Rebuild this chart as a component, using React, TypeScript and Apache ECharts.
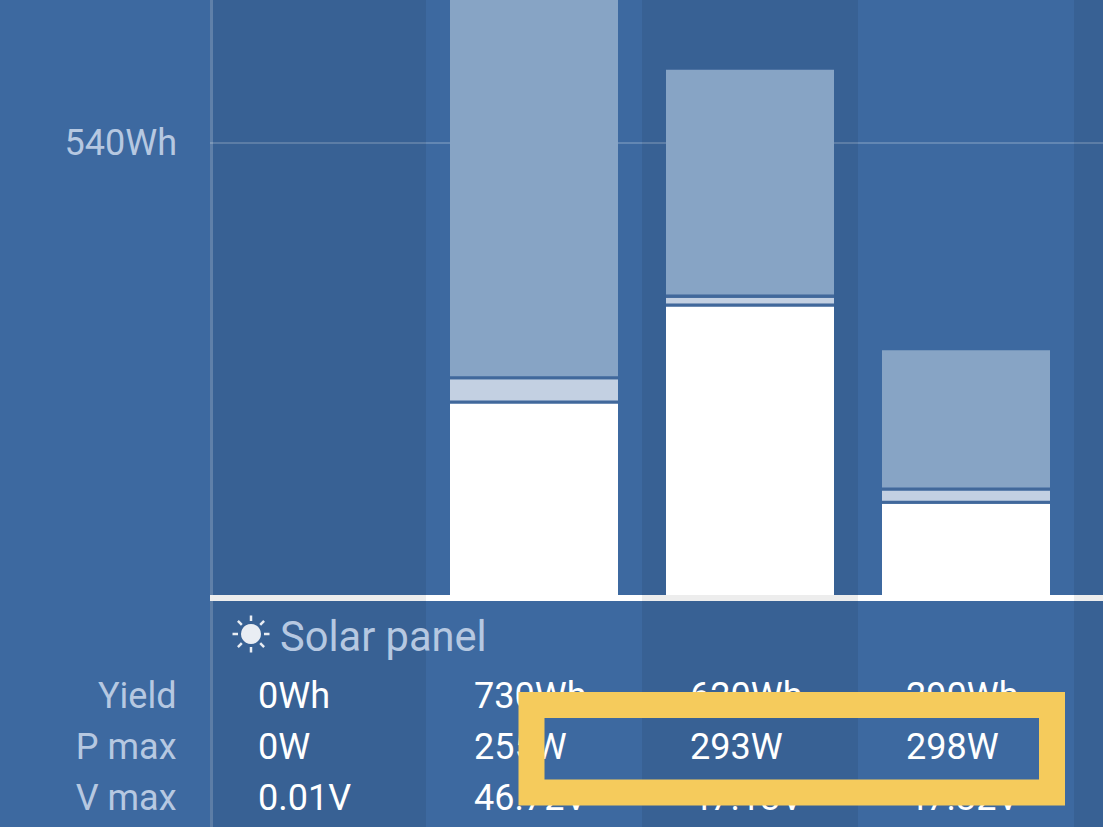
import React, { useEffect, useRef } from "react";
import * as echarts from "echarts";

const days = ["d0", "d1", "d2", "d3", "d4"];
const barWhite = [0, 231, 346, 112];
const barMid = [0, 25, 7, 12];
const barTop = [0, 465, 267, 163];
const barGap = [0, 3.6, 3.6, 3.6];
const yieldRow = ["0Wh", "730Wh", "620Wh", "290Wh"];
const pmaxRow = ["0W", "255W", "293W", "298W"];
const vmaxRow = ["0.01V", "46.72V", "47.13V", "47.32V"];
const rowNames = ["V max", "P max", "Yield"];
const rowTexts = [vmaxRow, pmaxRow, yieldRow];
const FONT = "Roboto";

export default function App() {
  const ref = useRef<HTMLDivElement>(null);
  useEffect(() => {
    const chart = echarts.init(ref.current!, null, { renderer: "svg" });
    const bands = ["rgba(0,0,0,0.07)", "rgba(0,0,0,0)"];
    const bar = (name: string, data: number[], color: string) => ({
      name,
      type: "bar",
      stack: "day",
      xAxisIndex: 0,
      yAxisIndex: 0,
      barWidth: 168,
      data,
      itemStyle: { color },
    });
    const sunC = [251, 634];
    const rays = [0, 45, 90, 135, 180, 225, 270, 315].map((a) => {
      const r = (a * Math.PI) / 180;
      return {
        type: "line",
        z: 20,
        shape: {
          x1: sunC[0] + Math.cos(r) * 13,
          y1: sunC[1] + Math.sin(r) * 13,
          x2: sunC[0] + Math.cos(r) * 18.5,
          y2: sunC[1] + Math.sin(r) * 18.5,
        },
        style: { stroke: "#e9edf3", lineWidth: 2.5 },
      };
    });
    const hidden = {
      axisTick: { show: false },
      axisLabel: { show: false },
    };
    chart.setOption({
      animation: false,
      backgroundColor: "#3d69a0",
      grid: [
        { left: 210, top: 0, width: 1080, height: 598, outerBoundsMode: "none", containLabel: false },
        { left: 210, top: 598, width: 1080, height: 229, outerBoundsMode: "none", containLabel: false },
        { left: 210, top: 595, width: 1080, height: 232, outerBoundsMode: "none", containLabel: false },
      ],
      xAxis: [
        {
          gridIndex: 0,
          type: "category",
          data: days,
          axisLine: { show: false },
          ...hidden,
          splitArea: { show: true, interval: 0, areaStyle: { color: bands } },
        },
        {
          gridIndex: 1,
          type: "category",
          position: "top",
          data: days,
          z: 3,
          axisLine: { show: true, onZero: false, lineStyle: { color: "#ffffff", width: 6, cap: "butt" } },
          ...hidden,
        },
        {
          gridIndex: 2,
          type: "category",
          data: days,
          z: 4,
          axisLine: { show: false },
          ...hidden,
          splitArea: { show: true, interval: 0, areaStyle: { color: bands } },
        },
      ],
      yAxis: [
        {
          gridIndex: 0,
          type: "value",
          min: 0,
          max: 710,
          interval: 540,
          offset: -1.5,
          axisLine: { show: true, lineStyle: { color: "rgba(255,255,255,0.2)", width: 3, cap: "butt" } },
          axisTick: { show: false },
          axisLabel: {
            margin: 34.5,
            color: "#b6c8e1",
            fontFamily: FONT,
            fontSize: 36,
            formatter: (v: number) => (v === 540 ? "540Wh" : ""),
          },
          splitLine: {
            show: true,
            showMinLine: false,
            showMaxLine: false,
            lineStyle: { color: "rgba(255,255,255,0.2)", width: 2 },
          },
        },
        {
          gridIndex: 1,
          type: "value",
          min: 0,
          max: 1,
          axisLine: { show: false },
          ...hidden,
          splitLine: { show: false },
        },
        {
          gridIndex: 2,
          type: "value",
          min: -0.568,
          max: 3.98,
          offset: -1.5,
          axisLine: { show: true, lineStyle: { color: "rgba(255,255,255,0.2)", width: 3, cap: "butt" } },
          ...hidden,
          splitLine: { show: false },
        },
      ],
      series: [
        bar("Bulk", barWhite, "#ffffff"),
        bar("gap1", barGap, "#41689b"),
        bar("Absorption", barMid, "#c3d0e2"),
        bar("gap2", barGap, "#41689b"),
        bar("Float", barTop, "#87a4c5"),
        ...rowTexts.map((texts, row) => ({
          type: "scatter",
          xAxisIndex: 2,
          yAxisIndex: 2,
          symbolSize: 1,
          z: 5,
          itemStyle: { color: "rgba(0,0,0,0)", opacity: 1 },
          data: texts.map((t, i) => ({
            value: [days[i], row],
            label: {
              show: true,
              position: "inside",
              align: "left",
              verticalAlign: "middle",
              offset: [-60, 0],
              formatter: t,
              color: "#ffffff",
              fontFamily: FONT,
              fontSize: 36,
            },
          })),
        })),
        {
          type: "scatter",
          xAxisIndex: 2,
          yAxisIndex: 2,
          symbolSize: 1,
          z: 5,
          itemStyle: { color: "rgba(0,0,0,0)", opacity: 1 },
          data: rowNames.map((t, row) => ({
            value: [days[0], row],
            label: {
              show: true,
              position: "inside",
              align: "right",
              verticalAlign: "middle",
              offset: [-141.5, 0],
              formatter: t,
              color: "#b6c8e1",
              fontFamily: FONT,
              fontSize: 36,
            },
          })),
        },
      ],
      graphic: [
        { type: "circle", z: 20, shape: { cx: sunC[0], cy: sunC[1], r: 10 }, style: { fill: "#e9edf3" } },
        ...rays,
        {
          type: "text",
          z: 20,
          x: 280,
          y: 636,
          style: {
            text: "Solar panel",
            fill: "#b6c8e1",
            font: `41.6px ${FONT}`,
            verticalAlign: "middle",
          },
        },
        {
          type: "rect",
          z: 30,
          shape: { x: 531.5, y: 705, width: 520.5, height: 87.5 },
          style: { fill: "transparent", stroke: "#f5cb5c", lineWidth: 26 },
        },
      ],
    });
    return () => chart.dispose();
  }, []);
  return <div ref={ref} style={{ position: "fixed", left: 0, top: 0, width: 1103, height: 827 }} />;
}
